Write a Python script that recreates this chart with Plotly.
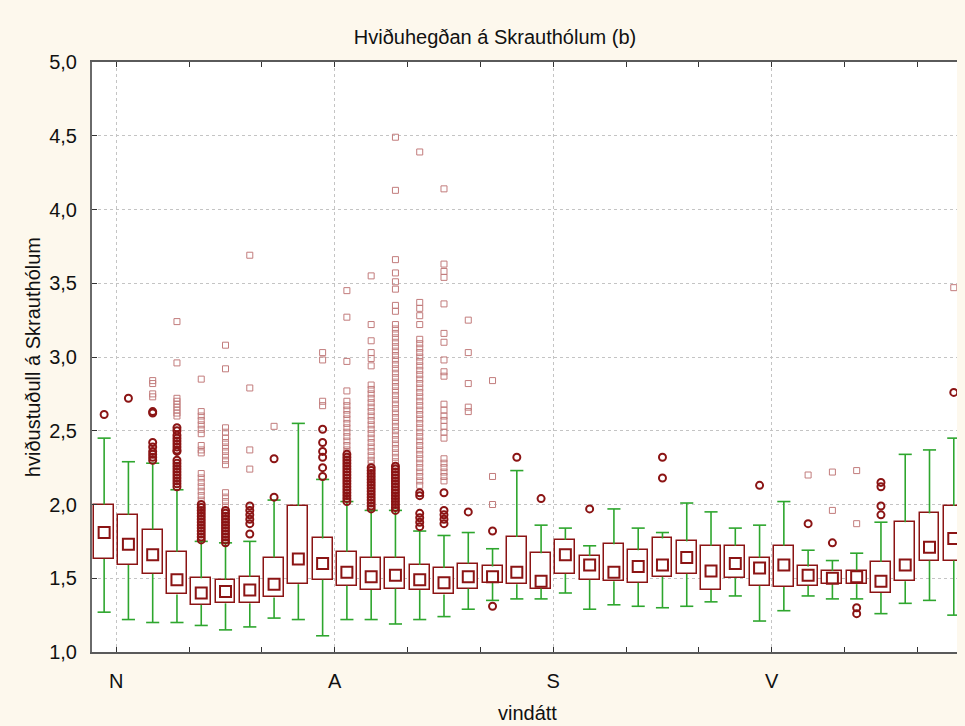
import plotly.graph_objects as go

# ---------------- data ----------------
direction_labels = ["N", "A", "S", "V"]

whisker_low = [1.27, 1.22, 1.20, 1.20, 1.18, 1.15, 1.17, 1.23, 1.22, 1.11, 1.22, 1.22,
               1.19, 1.22, 1.24, 1.29, 1.35, 1.36, 1.36, 1.40, 1.29, 1.32, 1.31, 1.30,
               1.31, 1.34, 1.38, 1.21, 1.28, 1.38, 1.36, 1.36, 1.26, 1.33, 1.35, 1.25]
q1 = [1.63, 1.59, 1.53, 1.39, 1.32, 1.33, 1.33, 1.37, 1.46, 1.49, 1.45, 1.42,
      1.43, 1.42, 1.39, 1.43, 1.47, 1.46, 1.43, 1.53, 1.49, 1.48, 1.47, 1.51,
      1.53, 1.42, 1.50, 1.45, 1.44, 1.45, 1.46, 1.46, 1.40, 1.48, 1.62, 1.62]
median = [1.81, 1.73, 1.66, 1.49, 1.40, 1.41, 1.42, 1.46, 1.63, 1.60, 1.54, 1.51,
          1.52, 1.49, 1.47, 1.51, 1.51, 1.54, 1.48, 1.66, 1.59, 1.54, 1.58, 1.59,
          1.64, 1.55, 1.60, 1.57, 1.59, 1.52, 1.50, 1.51, 1.48, 1.59, 1.71, 1.77]
q3 = [2.00, 1.93, 1.83, 1.68, 1.50, 1.49, 1.51, 1.64, 1.99, 1.77, 1.68, 1.64,
      1.64, 1.59, 1.57, 1.60, 1.58, 1.78, 1.67, 1.76, 1.65, 1.73, 1.69, 1.77,
      1.75, 1.72, 1.72, 1.64, 1.72, 1.58, 1.55, 1.55, 1.61, 1.88, 1.94, 1.99]
whisker_high = [2.45, 2.29, 2.28, 2.10, 1.75, 1.74, 1.75, 2.03, 2.55, 2.17, 2.02, 1.96,
                1.96, 1.82, 1.79, 1.81, 1.70, 2.23, 1.86, 1.84, 1.72, 1.97, 1.84, 1.81,
                2.01, 1.95, 1.84, 1.86, 2.02, 1.69, 1.62, 1.67, 1.88, 2.34, 2.37, 2.45]

outliers = [
    [2.61],
    [2.72],
    [2.63, 2.62, 2.42, 2.39, 2.36, 2.34, 2.32, 2.30],
    [2.52, 2.50, 2.47, 2.45, 2.43, 2.41, 2.39, 2.37, 2.36, 2.30, 2.28, 2.26, 2.24,
     2.22, 2.20, 2.18, 2.16, 2.14, 2.12],
    [2.00, 1.98, 1.96, 1.94, 1.92, 1.90, 1.88, 1.86, 1.84, 1.82, 1.80, 1.78, 1.76],
    [1.96, 1.94, 1.92, 1.90, 1.88, 1.86, 1.84, 1.82, 1.80, 1.78, 1.76, 1.74],
    [1.99, 1.96, 1.93, 1.90, 1.87, 1.80],
    [2.31, 2.05],
    [],
    [2.51, 2.42, 2.36, 2.32, 2.25, 2.19],
    [2.34, 2.32, 2.30, 2.28, 2.26, 2.24, 2.22, 2.20, 2.18, 2.16, 2.14, 2.12, 2.10,
     2.08, 2.06, 2.04, 2.02],
    [2.25, 2.23, 2.21, 2.19, 2.17, 2.15, 2.13, 2.11, 2.09, 2.07, 2.05, 2.03, 2.01,
     1.99, 1.97],
    [2.26, 2.24, 2.22, 2.20, 2.18, 2.16, 2.14, 2.12, 2.10, 2.08, 2.06, 2.04, 2.02,
     2.00, 1.98, 1.96],
    [2.08, 2.06, 1.94, 1.91, 1.88, 1.85],
    [2.08, 1.96, 1.93, 1.90, 1.87],
    [1.95],
    [1.82, 1.31],
    [2.32],
    [2.04],
    [],
    [1.97],
    [],
    [],
    [2.32, 2.18],
    [],
    [],
    [],
    [2.13],
    [],
    [1.87],
    [1.74],
    [1.30, 1.26],
    [2.15, 2.12, 1.99, 1.93],
    [],
    [],
    [2.76],
]

extremes = [
    [],
    [],
    [2.84, 2.82, 2.75, 2.73],
    [3.24, 2.96, 2.72, 2.70, 2.68, 2.66, 2.64, 2.62, 2.60],
    [2.85, 2.63, 2.60, 2.57, 2.54, 2.51, 2.48, 2.40, 2.37, 2.35, 2.21, 2.18, 2.15,
     2.12, 2.09, 2.06, 2.03],
    [3.08, 2.92, 2.52, 2.49, 2.45, 2.42, 2.39, 2.36, 2.33, 2.30, 2.27, 2.08, 2.05,
     2.02, 1.99],
    [3.69, 2.79, 2.37, 2.24],
    [2.53],
    [],
    [3.03, 2.98, 2.70, 2.67],
    [3.45, 3.27, 2.97, 2.77, 2.70, 2.67, 2.64, 2.61, 2.58, 2.55, 2.52, 2.49, 2.46,
     2.43, 2.40, 2.37, 2.35],
    [3.55, 3.22, 3.11, 3.03, 2.99, 2.94, 2.81, 2.78, 2.75, 2.72, 2.69, 2.66, 2.63,
     2.60, 2.57, 2.54, 2.51, 2.48, 2.45, 2.42, 2.39, 2.36, 2.33, 2.30, 2.28],
    [4.49, 4.13, 3.66, 3.57, 3.51, 3.46, 3.35, 3.31, 3.22, 3.19, 3.16, 3.13, 3.10,
     3.07, 3.04, 3.01, 2.98, 2.95, 2.92, 2.89, 2.86, 2.83, 2.80, 2.77, 2.74, 2.71,
     2.68, 2.65, 2.62, 2.59, 2.56, 2.53, 2.50, 2.47, 2.44, 2.41, 2.38, 2.35, 2.32,
     2.29],
    [4.39, 3.37, 3.33, 3.28, 3.22, 3.12, 3.09, 3.06, 3.03, 3.00, 2.97, 2.94, 2.91,
     2.88, 2.85, 2.82, 2.79, 2.76, 2.73, 2.70, 2.67, 2.64, 2.61, 2.58, 2.55, 2.52,
     2.49, 2.46, 2.43, 2.40, 2.37, 2.34, 2.31, 2.28, 2.25, 2.22, 2.19, 2.16, 2.13],
    [4.14, 3.63, 3.58, 3.54, 3.36, 3.16, 3.10, 2.98, 2.90, 2.87, 2.68, 2.64, 2.60,
     2.57, 2.53, 2.49, 2.45, 2.31, 2.28, 2.25, 2.22, 2.19, 2.16],
    [3.25, 3.03, 2.82, 2.66, 2.63],
    [2.84, 2.19, 2.00],
    [],
    [],
    [],
    [],
    [],
    [],
    [],
    [],
    [],
    [],
    [],
    [],
    [2.20],
    [2.22, 1.96],
    [2.23, 1.87],
    [],
    [],
    [],
    [3.47],
]

# ---------------- styling ----------------
RED = "#8b1414"
EXT = "#c27c7c"
GREEN = "#2ea62e"
BG = "#fdf8ed"
FONT = "Liberation Sans, Arial, sans-serif"

n = len(median)
xs = list(range(1, n + 1))
box_w = 0.82
cap_half = 0.27

fig = go.Figure()

# boxes
fig.add_trace(go.Bar(
    x=xs, y=[b - a for a, b in zip(q1, q3)], base=q1, width=box_w,
    marker=dict(color="white", line=dict(color=RED, width=1.5)),
    hoverinfo="skip", showlegend=False,
))

# whiskers with caps
wx, wy = [], []
for i, x in enumerate(xs):
    wx += [x, x, None, x, x, None,
           x - cap_half, x + cap_half, None, x - cap_half, x + cap_half, None]
    wy += [whisker_low[i], q1[i], None, q3[i], whisker_high[i], None,
           whisker_low[i], whisker_low[i], None, whisker_high[i], whisker_high[i], None]
fig.add_trace(go.Scatter(x=wx, y=wy, mode="lines",
                         line=dict(color=GREEN, width=1.6),
                         hoverinfo="skip", showlegend=False))

# medians
fig.add_trace(go.Scatter(x=xs, y=median, mode="markers",
                         marker=dict(symbol="square-open", size=11, color=RED,
                                     line=dict(width=2, color=RED)),
                         showlegend=False))

# extremes
ex_x, ex_y = [], []
for x, vals in zip(xs, extremes):
    ex_x += [x] * len(vals)
    ex_y += vals
fig.add_trace(go.Scatter(x=ex_x, y=ex_y, mode="markers",
                         marker=dict(symbol="square-open", size=6, color=EXT,
                                     line=dict(width=1, color=EXT)),
                         showlegend=False))

# outliers
ou_x, ou_y = [], []
for x, vals in zip(xs, outliers):
    ou_x += [x] * len(vals)
    ou_y += vals
fig.add_trace(go.Scatter(x=ou_x, y=ou_y, mode="markers",
                         marker=dict(symbol="circle-open", size=7, color=RED,
                                     line=dict(width=2, color=RED)),
                         showlegend=False))

label_pos = [1.5, 10.5, 19.5, 28.5]

fig.update_xaxes(
    range=[0.5, 36.38], tickvals=label_pos, ticktext=direction_labels,
    ticks="inside", ticklen=5, tickcolor="#333", tickwidth=1,
    showgrid=True, gridcolor="#c4c4c4", griddash="dot", gridwidth=1,
    showline=True, linecolor="#5a5a5a", linewidth=2, mirror="ticks",
    zeroline=False, ticklabelstandoff=10,
    tickfont=dict(size=20, color="#111", family=FONT),
    minor=dict(tick0=1.5, dtick=3, ticks="inside", ticklen=5, tickcolor="#333",
               showgrid=False),
)
fig.update_yaxes(
    range=[1.0, 5.0], dtick=0.5, tick0=1.0, tickformat=".1f",
    ticks="inside", ticklen=5, tickcolor="#333", tickwidth=1,
    showgrid=True, gridcolor="#c4c4c4", griddash="dot", gridwidth=1,
    showline=True, linecolor="#6a6a6a", linewidth=2, mirror="ticks",
    zeroline=False, ticklabelstandoff=9,
    tickfont=dict(size=20, color="#111", family=FONT),
)

# page body has an 8px margin, so figure is offset by (8, 8)
W, H = 957, 718
fig.update_layout(
    width=W, height=H,
    margin=dict(l=84, r=0, t=54, b=74),
    paper_bgcolor=BG, plot_bgcolor="white",
    separators=",.",
    bargap=0, showlegend=False,
    font=dict(family=FONT, size=20, color="#111"),
    title=dict(text="Hviðuhegðan á Skrauthólum (b)", x=(495 - 8) / W, xanchor="center",
               y=1 - (37 - 8) / H, yanchor="middle", yref="container",
               font=dict(size=20, family=FONT, color="#111")),
    annotations=[
        dict(text="vindátt", xref="paper", yref="paper", x=0.5, y=(652 - 713) / 590,
             xanchor="center", yanchor="middle", showarrow=False,
             font=dict(size=20, family=FONT, color="#111")),
        dict(text="hviðustuðull á Skrauthólum", xref="paper", yref="paper",
             x=(33 - 92) / 873, y=0.5, textangle=-90,
             xanchor="center", yanchor="middle", showarrow=False,
             font=dict(size=20, family=FONT, color="#111")),
    ],
)

fig.write_html(
    "out.html",
    post_script=("document.documentElement.style.background='%s';"
                 "document.body.style.background='%s';"
                 "document.body.style.overflow='hidden';") % (BG, BG),
)
